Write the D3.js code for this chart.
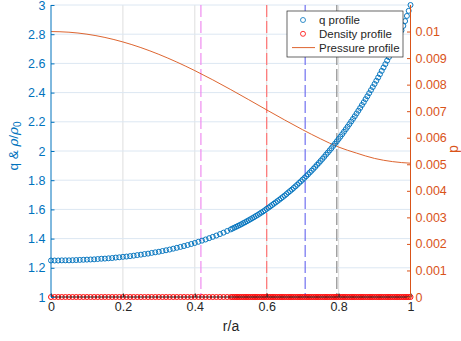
<!DOCTYPE html>
<html lang="en">
<head>
<meta charset="utf-8">
<title>q, density and pressure profiles</title>
<script src="https://cdn.jsdelivr.net/npm/d3@7"></script>
<style>
  body { margin: 0; background: #fff; }
  svg text { font-family: "Liberation Sans", Arial, Helvetica, sans-serif; }
</style>
</head>
<body>
<script>
// radial grid r/a (finer toward the edge)
var rGrid = [0,0.01,0.02,0.03,0.04,0.05,0.06,0.07,0.08,0.09,
  0.10,0.11,0.12,0.13,0.14,0.15,0.16,0.17,0.18,0.19,
  0.20,0.21,0.22,0.23,0.24,0.25,0.26,0.27,0.28,0.29,
  0.30,0.31,0.32,0.33,0.34,0.35,0.36,0.37,0.38,0.39,
  0.40,0.41,0.42,0.43,0.44,0.45,0.46,0.47,0.48,0.49,0.50,
  0.505,0.51,0.515,0.52,0.525,0.53,0.535,0.54,0.545,0.55,
  0.555,0.56,0.565,0.57,0.575,0.58,0.585,0.59,0.595,0.60,
  0.605,0.61,0.615,0.62,0.625,0.63,0.635,0.64,0.645,0.65,
  0.655,0.66,0.665,0.67,0.675,0.68,0.685,0.69,0.695,0.70,
  0.705,0.71,0.715,0.72,0.725,0.73,0.735,0.74,0.745,0.75,
  0.755,0.76,0.765,0.77,0.775,0.78,0.785,0.79,0.795,0.80,
  0.805,0.81,0.815,0.82,0.825,0.83,0.835,0.84,0.845,0.85,
  0.855,0.86,0.865,0.87,0.875,0.88,0.885,0.89,0.895,0.90,
  0.905,0.91,0.915,0.92,0.925,0.93,0.935,0.94,0.945,0.95,
  0.955,0.96,0.965,0.97,0.975,0.98,0.985,0.99,0.995,1.0];

// safety factor q at each grid point
var qProfile = [1.250,1.250,1.250,1.251,1.251,1.251,1.252,1.253,1.254,1.255,
  1.256,1.257,1.258,1.260,1.262,1.263,1.265,1.267,1.270,1.272,
  1.275,1.277,1.280,1.283,1.287,1.290,1.294,1.297,1.302,1.306,
  1.310,1.315,1.320,1.325,1.331,1.337,1.343,1.349,1.356,1.363,
  1.370,1.378,1.386,1.394,1.403,1.412,1.421,1.431,1.441,1.452,1.463,
  1.469,1.475,1.481,1.487,1.493,1.499,1.506,1.512,1.519,1.526,
  1.533,1.540,1.547,1.555,1.562,1.570,1.578,1.586,1.594,1.604,
  1.612,1.621,1.630,1.639,1.648,1.657,1.666,1.676,1.685,1.695,
  1.705,1.716,1.726,1.736,1.747,1.758,1.769,1.781,1.792,1.804,
  1.816,1.828,1.840,1.853,1.865,1.878,1.891,1.905,1.918,1.932,
  1.946,1.960,1.975,1.989,2.004,2.019,2.035,2.050,2.066,2.082,
  2.098,2.115,2.132,2.149,2.166,2.184,2.202,2.220,2.238,2.257,
  2.276,2.295,2.315,2.334,2.355,2.375,2.396,2.417,2.438,2.459,
  2.481,2.503,2.526,2.549,2.572,2.595,2.619,2.643,2.668,2.692,
  2.717,2.743,2.769,2.795,2.826,2.857,2.890,2.925,2.960,3.000];

// normalised density rho/rho0 (flat)
var densityProfile = [1,1,1,1,1,1,1,1,1,1, 1,1,1,1,1,1,1,1,1,1,
  1,1,1,1,1,1,1,1,1,1, 1,1,1,1,1,1,1,1,1,1, 1,1,1,1,1,1,1,1,1,1,1,
  1,1,1,1,1,1,1,1,1,1, 1,1,1,1,1,1,1,1,1,1, 1,1,1,1,1,1,1,1,1,1,
  1,1,1,1,1,1,1,1,1,1, 1,1,1,1,1,1,1,1,1,1, 1,1,1,1,1,1,1,1,1,1,
  1,1,1,1,1,1,1,1,1,1, 1,1,1,1,1,1,1,1,1,1, 1,1,1,1,1,1,1,1,1,1,
  1,1,1,1,1,1,1,1,1,1];

// pressure (right axis)
var pressR = [0,0.05,0.1,0.15,0.2,0.25,0.3,0.35,0.4,0.45,0.5,
  0.55,0.6,0.65,0.7,0.75,0.8,0.85,0.9,0.95,1.0];
var pressure = [0.01,0.009975,0.009901,0.009778,0.009608,0.009395,0.009141,0.00885,0.008528,0.00818,0.007813,
  0.007433,0.007048,0.006668,0.006301,0.005957,0.005648,0.00542,0.00522,0.0051,0.00504];

// rational surfaces (dashed markers)
var surfR = [0.417, 0.6, 0.707, 0.795];
var surfColors = ["#f08cf0", "#ff7373", "#7070f0", "#8c8c8c"];

var xTicks = [0, 0.2, 0.4, 0.6, 0.8, 1];
var yLeftTicks = [1, 1.2, 1.4, 1.6, 1.8, 2, 2.2, 2.4, 2.6, 2.8, 3];
var yRightTicks = [0, 0.001, 0.002, 0.003, 0.004, 0.005, 0.006, 0.007, 0.008, 0.009, 0.01];

var w = 461, h = 341;
var blue = "#0072BD", orange = "#D95319", dark = "#262626";

var x = d3.scaleLinear().domain([0, 1]).range([51, 410.5]);
var yL = d3.scaleLinear().domain([1, 3]).range([297, 5]);
var yR = d3.scaleLinear().domain([0, 0.011]).range([297, 5]);

var svg = d3.select("body").append("svg")
    .attr("width", w)
    .attr("height", h);

// grid
svg.append("g").selectAll("line")
    .data(xTicks.slice(1, -1))
  .enter().append("line")
    .attr("x1", function(d) { return x(d); })
    .attr("x2", function(d) { return x(d); })
    .attr("y1", 5).attr("y2", 297)
    .attr("stroke", "#dedede").attr("stroke-width", 1);

svg.append("g").selectAll("line")
    .data(yLeftTicks.slice(1))
  .enter().append("line")
    .attr("x1", 51).attr("x2", 410.5)
    .attr("y1", function(d) { return yL(d); })
    .attr("y2", function(d) { return yL(d); })
    .attr("stroke", "#dce7f2").attr("stroke-width", 1);

// dashed vertical lines
svg.append("g").selectAll("line")
    .data(surfR)
  .enter().append("line")
    .attr("x1", function(d) { return x(d); })
    .attr("x2", function(d) { return x(d); })
    .attr("y1", 5).attr("y2", 297)
    .attr("stroke", function(d, i) { return surfColors[i]; })
    .attr("stroke-width", 1.2)
    .attr("stroke-dasharray", "12,4");

// pressure curve
var pLine = d3.line()
    .x(function(d, i) { return x(pressR[i]); })
    .y(function(d) { return yR(d); })
    .curve(d3.curveMonotoneX);

svg.append("path")
    .datum(pressure)
    .attr("d", pLine)
    .attr("fill", "none")
    .attr("stroke", orange)
    .attr("stroke-width", 0.9);

// q markers
svg.append("g").selectAll("circle")
    .data(qProfile)
  .enter().append("circle")
    .attr("cx", function(d, i) { return x(rGrid[i]); })
    .attr("cy", function(d) { return yL(d); })
    .attr("r", 2.5)
    .attr("fill", "none")
    .attr("stroke", blue)
    .attr("stroke-width", 0.95);

// density markers
svg.append("g").selectAll("circle")
    .data(densityProfile)
  .enter().append("circle")
    .attr("cx", function(d, i) { return x(rGrid[i]); })
    .attr("cy", function(d) { return yL(d); })
    .attr("r", 2.5)
    .attr("fill", "none")
    .attr("stroke", "#ff0000")
    .attr("stroke-width", 0.95);

// axes
var xAxis = svg.append("g")
    .attr("transform", "translate(0,297)")
    .call(d3.axisBottom(x).tickValues(xTicks).tickSize(-3.5).tickPadding(5)
      .tickFormat(function(d) { return d3.format("~g")(d); }));
var yAxisL = svg.append("g")
    .attr("transform", "translate(51,0)")
    .call(d3.axisLeft(yL).tickValues(yLeftTicks).tickSize(-3.5).tickPadding(5.5)
      .tickFormat(function(d) { return d3.format("~g")(d); }));
var yAxisR = svg.append("g")
    .attr("transform", "translate(410.5,0)")
    .call(d3.axisRight(yR).tickValues(yRightTicks).tickSize(-3.5).tickPadding(5)
      .tickFormat(function(d) { return d3.format("~g")(d); }));

function styleAxis(g, col) {
  g.select(".domain").attr("stroke", col).attr("stroke-width", 1);
  g.selectAll(".tick line").attr("stroke", col).attr("stroke-width", 1);
  g.selectAll(".tick text").attr("fill", col).attr("font-size", "12.5px")
    .attr("font-family", null);
}
styleAxis(xAxis, dark);
styleAxis(yAxisL, blue);
styleAxis(yAxisR, orange);
xAxis.select(".domain").attr("d", "M51,0H410.5");
yAxisL.select(".domain").attr("d", "M0,297V5");
yAxisR.select(".domain").attr("d", "M0,297V5");

// axis labels
svg.append("text")
    .attr("x", 231).attr("y", 331)
    .attr("text-anchor", "middle")
    .attr("font-size", "14px")
    .attr("fill", dark)
    .text("r/a");

var yl = svg.append("text")
    .attr("transform", "translate(17.5,146) rotate(-90)")
    .attr("text-anchor", "middle")
    .attr("font-size", "13.5px")
    .attr("fill", blue);
yl.append("tspan").text("q & ");
yl.append("tspan").attr("font-style", "italic").attr("font-family", "DejaVu Serif, serif").text("ρ");
yl.append("tspan").text("/");
yl.append("tspan").attr("font-style", "italic").attr("font-family", "DejaVu Serif, serif").text("ρ");
yl.append("tspan").attr("dy", 3).attr("font-size", "10px").text("0");

svg.append("text")
    .attr("transform", "translate(458,149) rotate(-90)")
    .attr("text-anchor", "middle")
    .attr("font-size", "14px")
    .attr("fill", orange)
    .text("p");

// legend
var legend = svg.append("g");
legend.append("rect")
    .attr("x", 287).attr("y", 11)
    .attr("width", 116).attr("height", 46)
    .attr("fill", "#fff")
    .attr("stroke", dark).attr("stroke-width", 0.7);

var legItems = [
  { label: "q profile", kind: "circle", color: blue },
  { label: "Density profile", kind: "circle", color: "#ff0000" },
  { label: "Pressure profile", kind: "line", color: orange }
];
legItems.forEach(function(d, i) {
  var yy = 20 + i * 13.8;
  if (d.kind === "circle") {
    legend.append("circle").attr("cx", 303).attr("cy", yy).attr("r", 2.5)
      .attr("fill", "none").attr("stroke", d.color).attr("stroke-width", 0.8);
  } else {
    legend.append("line").attr("x1", 292).attr("x2", 315)
      .attr("y1", yy).attr("y2", yy)
      .attr("stroke", d.color).attr("stroke-width", 0.9);
  }
  legend.append("text").attr("x", 319).attr("y", yy).attr("dy", "0.35em")
    .attr("font-size", "11.5px").attr("fill", dark).text(d.label);
});
</script>
</body>
</html>
